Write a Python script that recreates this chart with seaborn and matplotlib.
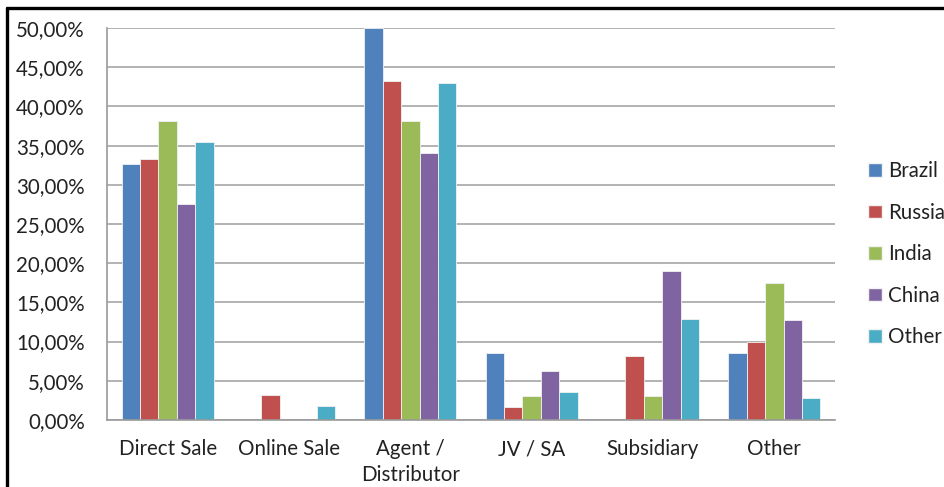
#!/usr/bin/env python3
"""Sales channel share by country (grouped bars, Excel style)."""

import matplotlib

matplotlib.use("Agg")
import matplotlib.pyplot as plt
import numpy as np
import pandas as pd
import seaborn as sns
from matplotlib.lines import Line2D
from matplotlib.patches import Patch
from matplotlib.ticker import FuncFormatter, MultipleLocator

channels = ["Direct Sale", "Online Sale", "Agent /\nDistributor", "JV / SA", "Subsidiary", "Other"]
countries = ["Brazil", "Russia", "India", "China", "Other"]

brazil = [32.6, 0.0, 50.0, 8.6, 0.0, 8.6]
russia = [33.3, 3.2, 43.2, 1.6, 8.2, 10.0]
india = [38.2, 0.0, 38.2, 3.0, 3.0, 17.5]
china = [27.6, 0.0, 34.0, 6.3, 19.0, 12.7]
other = [35.4, 1.8, 43.0, 3.6, 12.9, 2.8]

colors = ["#4F81BD", "#C0504D", "#9BBB59", "#8064A2", "#4BACC6"]

series = dict(zip(countries, [brazil, russia, india, china, other]))
df = pd.DataFrame(
    [(ch, c, v) for c, vals in series.items() for ch, v in zip(channels, vals)],
    columns=["channel", "country", "share"],
)

sns.set_style("white")
plt.rcParams["font.family"] = ["Lato", "DejaVu Sans"]
FS = 14.8

fig = plt.figure(figsize=(9.45, 4.87), dpi=100)
ax = fig.add_axes([0.1132, 0.1376, 0.7704, 0.8049])

sns.barplot(
    data=df, x="channel", y="share", hue="country", order=channels,
    hue_order=countries, palette=colors, width=0.76, saturation=1,
    edgecolor="#f2f2f2", linewidth=0.6, ax=ax, legend=False,
)

ax.set_ylim(0, 50)
ax.set_xlim(-0.5, len(channels) - 0.5)
ax.yaxis.set_major_locator(MultipleLocator(5))
ax.yaxis.set_major_formatter(FuncFormatter(lambda v, _: f"{v:.2f}%".replace(".", ",")))
ax.grid(axis="y", color="#a6a6a6", linewidth=1.2)
ax.set_axisbelow(True)
for side in ["top", "right"]:
    ax.spines[side].set_visible(False)
for side in ["left", "bottom"]:
    ax.spines[side].set_color("#9a9a9a")
    ax.spines[side].set_linewidth(1.2)
ax.set_xlabel("")
ax.set_ylabel("")
ax.tick_params(axis="both", labelsize=FS, colors="#222222", length=0)
ax.tick_params(axis="y", pad=16)
ax.tick_params(axis="x", pad=14)
for lbl in ax.get_xticklabels():
    lbl.set_linespacing(1.35)

handles = [Patch(facecolor=c, edgecolor="#f2f2f2") for c in colors]
fig.legend(
    handles, countries, loc="center left", bbox_to_anchor=(0.919, 0.478),
    frameon=False, fontsize=FS, handlelength=0.65, handleheight=0.65,
    handletextpad=0.3, labelspacing=1.05, labelcolor="#222222",
    borderpad=0, borderaxespad=0,
)

# black frame visible on the top and left of the cropped picture
fig.add_artist(Line2D([0.0075, 1.0], [0.9835, 0.9835], color="black", lw=2.4, transform=fig.transFigure))
fig.add_artist(Line2D([0.0075, 0.0075], [0.0, 0.9835], color="black", lw=2.4, transform=fig.transFigure))

fig.savefig("out.png", dpi=100)
